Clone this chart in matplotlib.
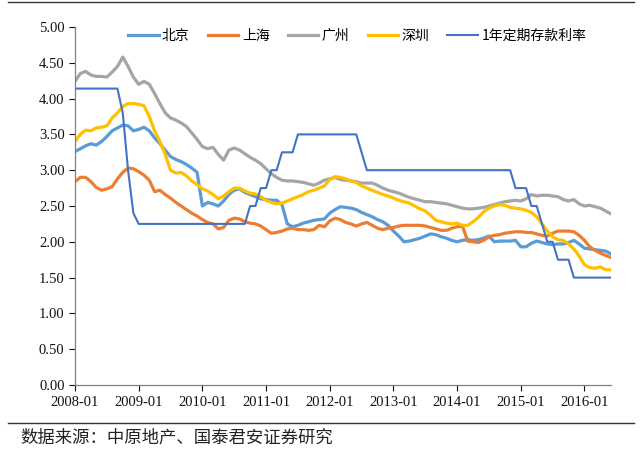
import numpy as np
import matplotlib
matplotlib.use("Agg")
import matplotlib.pyplot as plt
from matplotlib.lines import Line2D

plt.rcParams['font.family'] = ['Liberation Serif', 'Noto Sans CJK SC', 'DejaVu Sans']

# données mensuelles 2008-01 .. 2016-06
tick_labels = ["2008-01", "2009-01", "2010-01", "2011-01", "2012-01",
               "2013-01", "2014-01", "2015-01", "2016-01"]

beijing = [3.26, 3.30, 3.34, 3.37, 3.35, 3.40, 3.47, 3.55, 3.59, 3.63,
           3.62, 3.55, 3.57, 3.60, 3.55, 3.45, 3.37, 3.28, 3.19, 3.15,
           3.12, 3.08, 3.03, 2.97, 2.50, 2.55, 2.53, 2.50, 2.57, 2.66,
           2.72, 2.74, 2.69, 2.66, 2.63, 2.60, 2.59, 2.58, 2.58, 2.52,
           2.25, 2.21, 2.23, 2.26, 2.28, 2.30, 2.31, 2.32, 2.40, 2.45,
           2.49, 2.48, 2.47, 2.45, 2.41, 2.38, 2.35, 2.31, 2.28, 2.23,
           2.15, 2.08, 2.00, 2.01, 2.03, 2.05, 2.08, 2.11, 2.10, 2.07,
           2.05, 2.02, 2.00, 2.02, 2.03, 2.02, 2.03, 2.05, 2.08, 2.00,
           2.01, 2.01, 2.01, 2.02, 1.93, 1.93, 1.98, 2.01, 1.99, 1.97,
           1.96, 1.97, 1.97, 1.99, 2.02, 1.97, 1.91, 1.90, 1.89, 1.88,
           1.87, 1.83]

shanghai = [2.84, 2.90, 2.90, 2.84, 2.76, 2.72, 2.74, 2.77, 2.88, 2.97,
            3.03, 3.02, 2.98, 2.93, 2.86, 2.70, 2.72, 2.66, 2.61, 2.55,
            2.50, 2.45, 2.40, 2.36, 2.31, 2.27, 2.25, 2.18, 2.20, 2.30,
            2.33, 2.32, 2.28, 2.26, 2.25, 2.22, 2.17, 2.12, 2.13, 2.15,
            2.18, 2.19, 2.17, 2.17, 2.16, 2.17, 2.23, 2.21, 2.29, 2.33,
            2.31, 2.27, 2.25, 2.22, 2.25, 2.27, 2.23, 2.19, 2.17, 2.19,
            2.20, 2.22, 2.23, 2.23, 2.23, 2.23, 2.22, 2.20, 2.18, 2.16,
            2.16, 2.19, 2.21, 2.22, 2.01, 2.00, 1.99, 2.02, 2.07, 2.09,
            2.10, 2.12, 2.13, 2.14, 2.14, 2.13, 2.13, 2.11, 2.09, 2.08,
            2.12, 2.15, 2.15, 2.15, 2.14, 2.09, 2.02, 1.93, 1.88, 1.84,
            1.81, 1.78]

guangzhou = [4.24, 4.35, 4.38, 4.33, 4.31, 4.31, 4.30, 4.37, 4.45, 4.58,
             4.45, 4.30, 4.20, 4.24, 4.20, 4.07, 3.93, 3.80, 3.73, 3.70,
             3.66, 3.61, 3.52, 3.43, 3.33, 3.30, 3.32, 3.22, 3.14, 3.28,
             3.31, 3.28, 3.23, 3.18, 3.14, 3.09, 3.02, 2.95, 2.90, 2.86,
             2.85, 2.85, 2.84, 2.83, 2.81, 2.79, 2.82, 2.86, 2.88, 2.90,
             2.87, 2.86, 2.85, 2.84, 2.82, 2.82, 2.82, 2.79, 2.75, 2.72,
             2.70, 2.68, 2.65, 2.62, 2.60, 2.58, 2.56, 2.56, 2.55, 2.54,
             2.53, 2.51, 2.49, 2.47, 2.46, 2.46, 2.47, 2.48, 2.50, 2.52,
             2.54, 2.56, 2.57, 2.58, 2.57, 2.60, 2.66, 2.64, 2.65, 2.65,
             2.64, 2.63, 2.59, 2.57, 2.59, 2.53, 2.50, 2.51, 2.49, 2.47,
             2.43, 2.39]

shenzhen = [3.40, 3.50, 3.56, 3.55, 3.59, 3.60, 3.62, 3.73, 3.80, 3.89,
            3.93, 3.93, 3.92, 3.90, 3.75, 3.55, 3.40, 3.22, 3.00, 2.96,
            2.97, 2.92, 2.85, 2.80, 2.74, 2.71, 2.66, 2.60, 2.64, 2.70,
            2.75, 2.75, 2.71, 2.68, 2.67, 2.63, 2.58, 2.55, 2.53, 2.54,
            2.57, 2.60, 2.63, 2.66, 2.70, 2.72, 2.75, 2.78, 2.87, 2.91,
            2.90, 2.88, 2.85, 2.83, 2.78, 2.75, 2.72, 2.69, 2.66, 2.64,
            2.61, 2.58, 2.56, 2.54, 2.50, 2.46, 2.43, 2.37, 2.30, 2.28,
            2.26, 2.25, 2.26, 2.23, 2.23, 2.28, 2.34, 2.42, 2.47, 2.50,
            2.52, 2.51, 2.48, 2.47, 2.46, 2.44, 2.41, 2.35, 2.25, 2.15,
            2.07, 2.03, 2.02, 1.97, 1.90, 1.80, 1.68, 1.64, 1.63, 1.65,
            1.61, 1.61]

deposit = [4.14] * 9 + [3.80, 3.00, 2.40] + [2.25] * 21 + \
          [2.50, 2.50, 2.75, 2.75, 3.00, 3.00, 3.25, 3.25, 3.25] + \
          [3.50] * 12 + [3.25] + [3.00] * 28 + \
          [2.75, 2.75, 2.75, 2.50, 2.50, 2.25, 2.00, 2.00, 1.75, 1.75, 1.75] + \
          [1.50] * 8

months = np.arange(len(beijing))

fig = plt.figure(figsize=(6.4, 4.49), dpi=100)
ax = fig.add_axes([75 / 640, 1 - 385 / 449, 536 / 640, 358 / 449])

ax.plot(months, beijing, color="#5B9BD5", lw=2.3, label="北京")
ax.plot(months, shanghai, color="#ED7D31", lw=2.3, label="上海")
ax.plot(months, guangzhou, color="#A5A5A5", lw=2.3, label="广州")
ax.plot(months, shenzhen, color="#FFC000", lw=2.3, label="深圳")
ax.plot(months, deposit, color="#4472C4", lw=1.5, label="1年定期存款利率")

ax.set_xlim(0, 101)
ax.set_ylim(0, 5)
ax.set_xticks(np.arange(0, 97, 12))
ax.set_xticklabels(tick_labels)
ax.set_yticks(np.arange(0, 5.01, 0.5))
ax.set_yticklabels([f"{v:.2f}" for v in np.arange(0, 5.01, 0.5)])
ax.tick_params(labelsize=10.5, colors="#111111", length=4, width=0.8, direction="out")
ax.tick_params(axis="x", pad=4)
for s in ["top", "right"]:
    ax.spines[s].set_visible(False)
for s in ["left", "bottom"]:
    ax.spines[s].set_color("#808080")
    ax.spines[s].set_linewidth(0.9)

leg = fig.legend(loc="center", bbox_to_anchor=(0.558, 0.92), ncol=5, frameon=False,
                 handlelength=2.2, handletextpad=0.25, columnspacing=1.3,
                 prop={"family": ["Noto Sans CJK SC", "Liberation Serif"], "size": 10})

# traits horizontaux haut et bas + source
fig.add_artist(Line2D([8 / 640, 634 / 640], [1 - 2 / 449, 1 - 2 / 449], color="#333333", lw=1))
fig.add_artist(Line2D([8 / 640, 634 / 640], [1 - 423 / 449, 1 - 423 / 449], color="#333333", lw=1))
fig.text(20 / 640, 1 - 438 / 449, "数据来源：中原地产、国泰君安证券研究", fontsize=12.5,
         family=["Noto Sans CJK SC", "DejaVu Sans"], va="center", ha="left", color="#222222")

fig.savefig("out.png", dpi=100)
